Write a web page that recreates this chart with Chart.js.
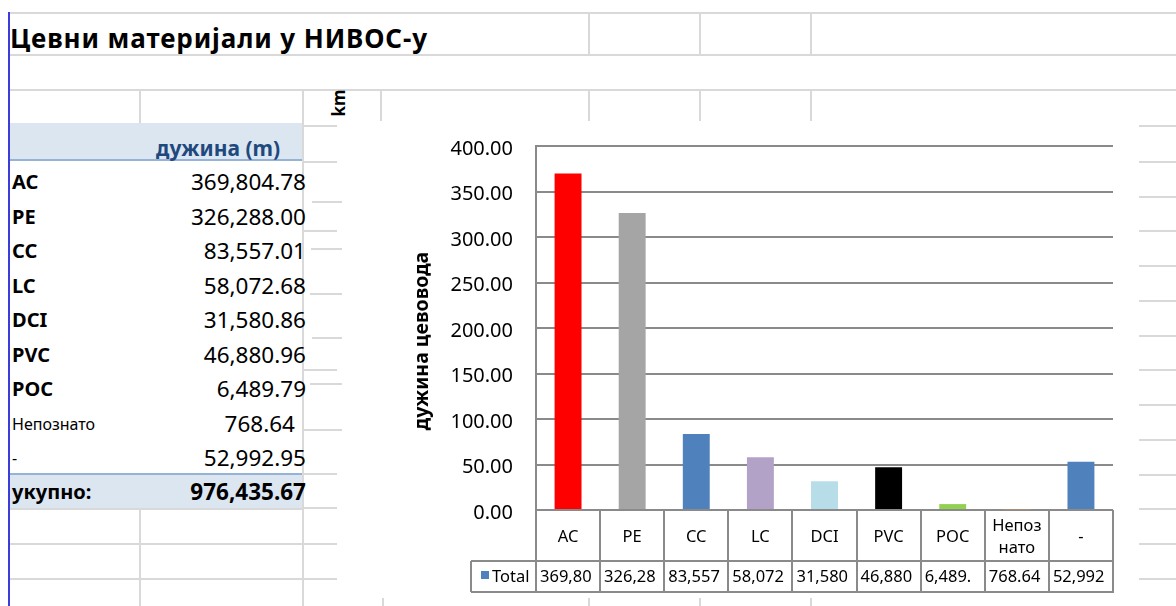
<!DOCTYPE html>
<html>
<head>
<meta charset="utf-8">
<script src="https://cdn.jsdelivr.net/npm/chart.js@4.4.1/dist/chart.umd.min.js"></script>
<style>
  body { margin: 0; width: 1176px; height: 606px; overflow: hidden; background: #fff; position: relative; font-family: 'Noto Sans', sans-serif; }
  .ln { position: absolute; background: #d9d9d9; }
  .t { position: absolute; white-space: nowrap; color: #000; }
  #chartBox { position: absolute; left: 342px; top: 121px; width: 797px; height: 477px; background: #fff; }
</style>
</head>
<body>
<div id="sheet"></div>
<div class="t" style="left:10px; top:21px; font-size:26px; letter-spacing:0.9px; font-weight:bold; line-height:34px;">Цевни материјали у НИВОС-у</div>
<div class="t" style="left:322px; top:93px; width:34px; text-align:center; font-size:17px; font-weight:bold; line-height:20px; transform:rotate(-90deg);">km</div>
<div id="chartBox"><canvas id="chart"></canvas></div>

<script>
// podaci
const materials = ['AC', 'PE', 'CC', 'LC', 'DCI', 'PVC', 'POC', 'Непознато', '-'];
const lengthsM = [369804.78, 326288.00, 83557.01, 58072.68, 31580.86, 46880.96, 6489.79, 768.64, 52992.95];
const barColors = ['#ff0000', '#a5a5a5', '#4f81bd', '#b3a2c7', '#b7dde8', '#000000', '#92d050', '#f79646', '#4f81bd'];
const boldLabels = [true, true, true, true, true, true, true, false, false];
const seriesName = 'Total';
const headerLabel = 'дужина (m)';
const totalLabel = 'укупно:';
const axisTitle = 'дужина цевовода';
const yMin = 0, yMax = 400, yStep = 50;

const lengthsKm = lengthsM.map(v => v / 1000);
const fmt = v => v.toLocaleString('en-US', { minimumFractionDigits: 2, maximumFractionDigits: 2 });

// spreadsheet pozadina
const sheet = document.getElementById('sheet');
function line(x, y, w, h, color) {
  const d = document.createElement('div');
  d.className = 'ln';
  d.style.left = x + 'px'; d.style.top = y + 'px';
  d.style.width = w + 'px'; d.style.height = h + 'px';
  if (color) d.style.background = color;
  sheet.appendChild(d);
}
function text(str, x, cy, size, bold, align, color) {
  const d = document.createElement('div');
  d.className = 't';
  d.textContent = str;
  d.style.fontSize = size + 'px';
  d.style.lineHeight = '30px';
  d.style.top = (cy - 15) + 'px';
  if (bold) d.style.fontWeight = 'bold';
  if (color) d.style.color = color;
  if (align === 'right') { d.style.right = (1176 - x) + 'px'; } else { d.style.left = x + 'px'; }
  sheet.appendChild(d);
  return d;
}

[12, 54, 89].forEach(y => line(8, y, 1168, 2));
[588, 699, 810].forEach(x => { line(x, 12, 2, 43); line(x, 89, 2, 34); });
[139, 380].forEach(x => line(x, 89, 2, 34));
line(302, 89, 2, 517);
line(139, 508, 2, 98);
[508, 543, 578].forEach(y => line(8, y, 294, 2));
[[125, 290, 337], [161, 303, 337], [201, 312, 342], [230, 303, 337], [248, 311, 343], [293, 310, 342],
 [337, 312, 343], [369, 303, 337], [383, 310, 342], [429, 303, 342], [473, 290, 337], [507, 303, 337],
 [543, 290, 337], [578, 290, 337]].forEach(s => line(s[1], s[0], s[2] - s[1], 2));
[125, 161, 196, 230, 265, 300, 335, 369, 404, 439, 474, 508, 543, 578].forEach(y => line(1139, y, 37, 2));
[382, 588, 699, 810].forEach(x => line(x, 598, 2, 8));

// tabela levo
line(9, 123, 293, 38, '#dce6f1');
line(9, 159, 293, 2, '#95b3d7');
line(9, 473, 293, 35, '#dce6f1');
line(9, 473, 293, 2, '#95b3d7');
text(headerLabel, 156, 148, 21, true, 'left', '#1f497d');
materials.forEach((m, i) => {
  const cy = 182 + i * 34.5;
  text(m, 12, cy, boldLabels[i] ? 20 : 16, boldLabels[i]);
  text(fmt(lengthsM[i]), m === 'Непознато' ? 295 : 306, cy, 22.5, false, 'right');
});
const total = lengthsM.reduce((a, b) => a + b, 0);
text(totalLabel, 12, 492, 20, true);
text(fmt(total), 306, 492, 22.5, true, 'right');
line(8, 12, 2, 594, '#3c3cdc');

// tabela podataka ispod grafika
const dataTable = {
  id: 'dataTable',
  afterDraw(chart) {
    const ctx = chart.ctx;
    const xs = chart.scales.x;
    const area = chart.chartArea;
    const n = materials.length;
    const cw = (area.right - area.left) / n;
    const top = area.bottom, mid = top + 51, bot = top + 82;
    const legLeft = area.left - 65;
    ctx.save();
    ctx.strokeStyle = '#8a8a8a';
    ctx.lineWidth = 2;
    ctx.beginPath();
    ctx.moveTo(legLeft, mid); ctx.lineTo(area.right + 1, mid);
    ctx.moveTo(legLeft, bot); ctx.lineTo(area.right + 1, bot);
    ctx.moveTo(legLeft, mid); ctx.lineTo(legLeft, bot);
    for (let i = 0; i <= n; i++) {
      const bx = Math.round(xs.getPixelForValue(0) - cw / 2 + i * cw);
      ctx.moveTo(bx, top); ctx.lineTo(bx, bot);
    }
    ctx.stroke();

    ctx.fillStyle = '#000';
    ctx.textBaseline = 'middle';
    ctx.font = '16.5px "Noto Sans"';
    materials.forEach((m, i) => {
      const cx = xs.getPixelForValue(i);
      ctx.textAlign = 'center';
      if (ctx.measureText(m).width > cw * 0.8) {
        let k = m.length;
        while (k > 1 && ctx.measureText(m.slice(0, k)).width > cw * 0.8) k--;
        ctx.fillText(m.slice(0, k), cx, top + 16);
        ctx.fillText(m.slice(k), cx, top + 38);
      } else {
        ctx.fillText(m, cx, top + 27);
      }
      let s = fmt(lengthsM[i]);
      const maxW = cw - 9;
      while (s.length > 1 && ctx.measureText(s).width > maxW) s = s.slice(0, -1);
      ctx.textAlign = 'left';
      ctx.fillText(s, cx - cw / 2 + 4, top + 67);
    });

    // legenda
    ctx.fillStyle = barColors[2];
    ctx.fillRect(legLeft + 10, top + 61, 8, 8);
    ctx.fillStyle = '#000';
    ctx.textAlign = 'left';
    ctx.fillText(seriesName, legLeft + 21, top + 67);

    // naslov ose
    ctx.translate(area.left - 114, (area.top + area.bottom) / 2 + 13);
    ctx.rotate(-Math.PI / 2);
    ctx.textAlign = 'center';
    ctx.font = 'bold 19.5px "Noto Sans"';
    ctx.fillText(axisTitle, 0, 0);
    ctx.restore();
  }
};

new Chart(document.getElementById('chart'), {
  type: 'bar',
  data: {
    labels: materials,
    datasets: [{
      label: seriesName,
      data: lengthsKm,
      backgroundColor: barColors,
      barPercentage: 0.42,
      categoryPercentage: 1.0
    }]
  },
  options: {
    responsive: true,
    maintainAspectRatio: false,
    animation: false,
    devicePixelRatio: 1,
    layout: { padding: { left: 0, top: 25, right: 26, bottom: 88 } },
    plugins: { legend: { display: false }, tooltip: { enabled: false } },
    scales: {
      x: { display: false },
      y: {
        min: yMin,
        max: yMax,
        afterFit: s => { s.width = 194; s.paddingTop = 0; s.paddingBottom = 0; },
        ticks: {
          stepSize: yStep,
          padding: 23,
          labelOffset: 3,
          color: '#000',
          font: { family: 'Noto Sans', size: 20 },
          callback: v => v.toFixed(2)
        },
        grid: { color: '#8a8a8a', lineWidth: 2, drawTicks: false },
        border: { display: true, color: '#8a8a8a', width: 2 }
      }
    }
  },
  plugins: [dataTable]
});
</script>
</body>
</html>
